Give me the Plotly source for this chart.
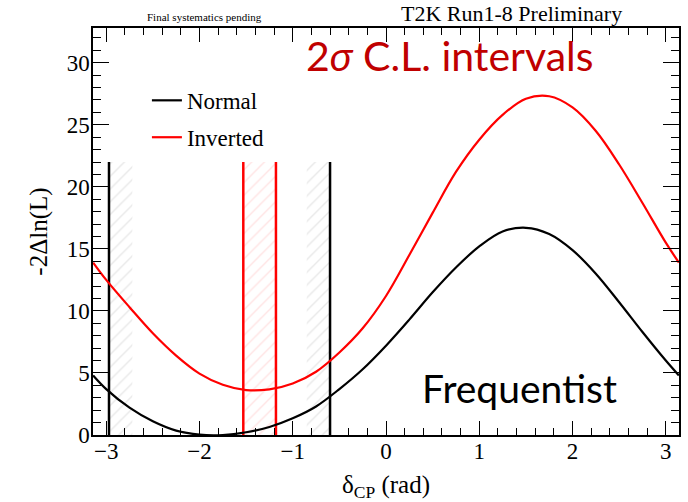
import plotly.graph_objects as go

# ---- data ----
delta = [-3.14, -3.0, -2.75, -2.5, -2.25, -2.0, -1.75, -1.5, -1.25, -1.0, -0.75, -0.5,
         -0.25, 0.0, 0.25, 0.5, 0.75, 1.0, 1.25, 1.5, 1.75, 2.0, 2.25, 2.5, 2.75,
         3.0, 3.14]
chi2_normal = [4.8, 3.7, 2.2, 1.1, 0.35, 0.03, 0.0, 0.22, 0.65, 1.35, 2.3, 3.7,
               5.3, 7.2, 9.3, 11.5, 13.5, 15.2, 16.4, 16.7, 16.2, 14.9, 13.0, 10.7, 8.3,
               6.0, 4.8]
chi2_inverted = [13.9, 12.5, 10.3, 8.2, 6.4, 4.95, 4.05, 3.62, 3.68, 4.15, 5.1, 6.65,
                 8.6, 11.2, 14.5, 17.9, 21.2, 23.8, 25.8, 27.1, 27.3, 26.4, 24.5, 21.8, 18.7,
                 15.5, 13.9]

interval_normal = [-2.97, -0.60]
interval_inverted = [-1.53, -1.18]
line_top = 22.0

x_ticks = [-3, -2, -1, 0, 1, 2, 3]
y_ticks = [0, 5, 10, 15, 20, 25, 30]

# ---- style ----
PI = 3.141592653589793
HATCH_W = 0.25
SERIF = "Liberation Serif"
SANS = "Lato"

fig = go.Figure()


def hatch_bands(lo, hi):
    if hi - lo <= 2 * HATCH_W:
        return [(lo, hi)]
    return [(lo, lo + HATCH_W), (hi - HATCH_W, hi)]


for (lo, hi), col in [(interval_normal, "rgba(120,120,120,0.35)"),
                      (interval_inverted, "rgba(255,90,90,0.35)")]:
    for a, b in hatch_bands(lo, hi):
        fig.add_trace(go.Scatter(
            x=[a, b, b, a, a], y=[0, 0, line_top, line_top, 0],
            mode="none", fill="toself", fillcolor="rgba(0,0,0,0)",
            fillpattern=dict(shape="/", fgcolor=col, bgcolor="rgba(0,0,0,0)",
                             size=9, solidity=0.15),
            showlegend=False, hoverinfo="skip"))

for (lo, hi), col in [(interval_normal, "black"), (interval_inverted, "red")]:
    for b in (lo, hi):
        fig.add_trace(go.Scatter(x=[b, b], y=[0, line_top], mode="lines",
                                 line=dict(color=col, width=2.5),
                                 showlegend=False, hoverinfo="skip"))

fig.add_trace(go.Scatter(x=delta, y=chi2_normal, mode="lines",
                         name="Normal", legendgroup="n",
                         line=dict(color="black", width=2.2, shape="spline")))
fig.add_trace(go.Scatter(x=delta, y=chi2_inverted, mode="lines",
                         name="Inverted", legendgroup="i",
                         line=dict(color="red", width=2.2, shape="spline")))

axis_common = dict(showline=True, linecolor="black", linewidth=1.5, mirror="ticks",
                   ticks="inside", tickcolor="black", showgrid=False, zeroline=False,
                   tickfont=dict(family=SERIF, size=23, color="black"))

fig.update_xaxes(range=[-PI, PI], tickvals=x_ticks, ticklen=14, tickwidth=1.2,
                 ticklabelstandoff=-5,
                 minor=dict(dtick=0.2, tick0=0, ticks="inside", ticklen=7,
                            tickcolor="black", showgrid=False),
                 title=dict(text="δ<sub>CP</sub> (rad)",
                            font=dict(family=SERIF, size=25, color="black"),
                            standoff=12),
                 **axis_common)
fig.update_yaxes(range=[0, 32.8], tickvals=y_ticks, ticklen=16, tickwidth=1.2,
                 ticklabelstandoff=-3,
                 minor=dict(dtick=1, tick0=0, ticks="inside", ticklen=8,
                            tickcolor="black", showgrid=False),
                 title=dict(text="-2Δln(L)",
                            font=dict(family=SERIF, size=25, color="black"),
                            standoff=12),
                 **axis_common)

fig.add_annotation(text="T2K Run1-8 Preliminary", xref="paper", yref="paper",
                   x=0.715, y=1.035, xanchor="center", yanchor="middle",
                   showarrow=False, font=dict(family=SERIF, size=22, color="black"))
fig.add_annotation(text="Final systematics pending", xref="paper", yref="paper",
                   x=0.19, y=1.028, xanchor="center", yanchor="middle",
                   showarrow=False, font=dict(family=SERIF, size=11, color="black"))
fig.add_annotation(text="2<i>σ</i> C.L. intervals", xref="paper", yref="paper",
                   x=0.609, y=0.933, xanchor="center", yanchor="middle",
                   showarrow=False, font=dict(family=SANS, size=41, color="#c00000"))
fig.add_annotation(text="Frequentist", xref="paper", yref="paper",
                   x=0.728, y=0.115, xanchor="center", yanchor="middle",
                   showarrow=False, font=dict(family=SANS, size=39, color="black"))

fig.update_layout(
    width=688, height=502,
    margin=dict(l=93, r=7, t=28, b=67),
    paper_bgcolor="white", plot_bgcolor="white",
    legend=dict(x=0.092, y=0.875, xanchor="left", yanchor="top",
                bgcolor="rgba(0,0,0,0)", borderwidth=0, tracegroupgap=4,
                font=dict(family=SERIF, size=23, color="black")),
)

fig.write_html("out.html")
